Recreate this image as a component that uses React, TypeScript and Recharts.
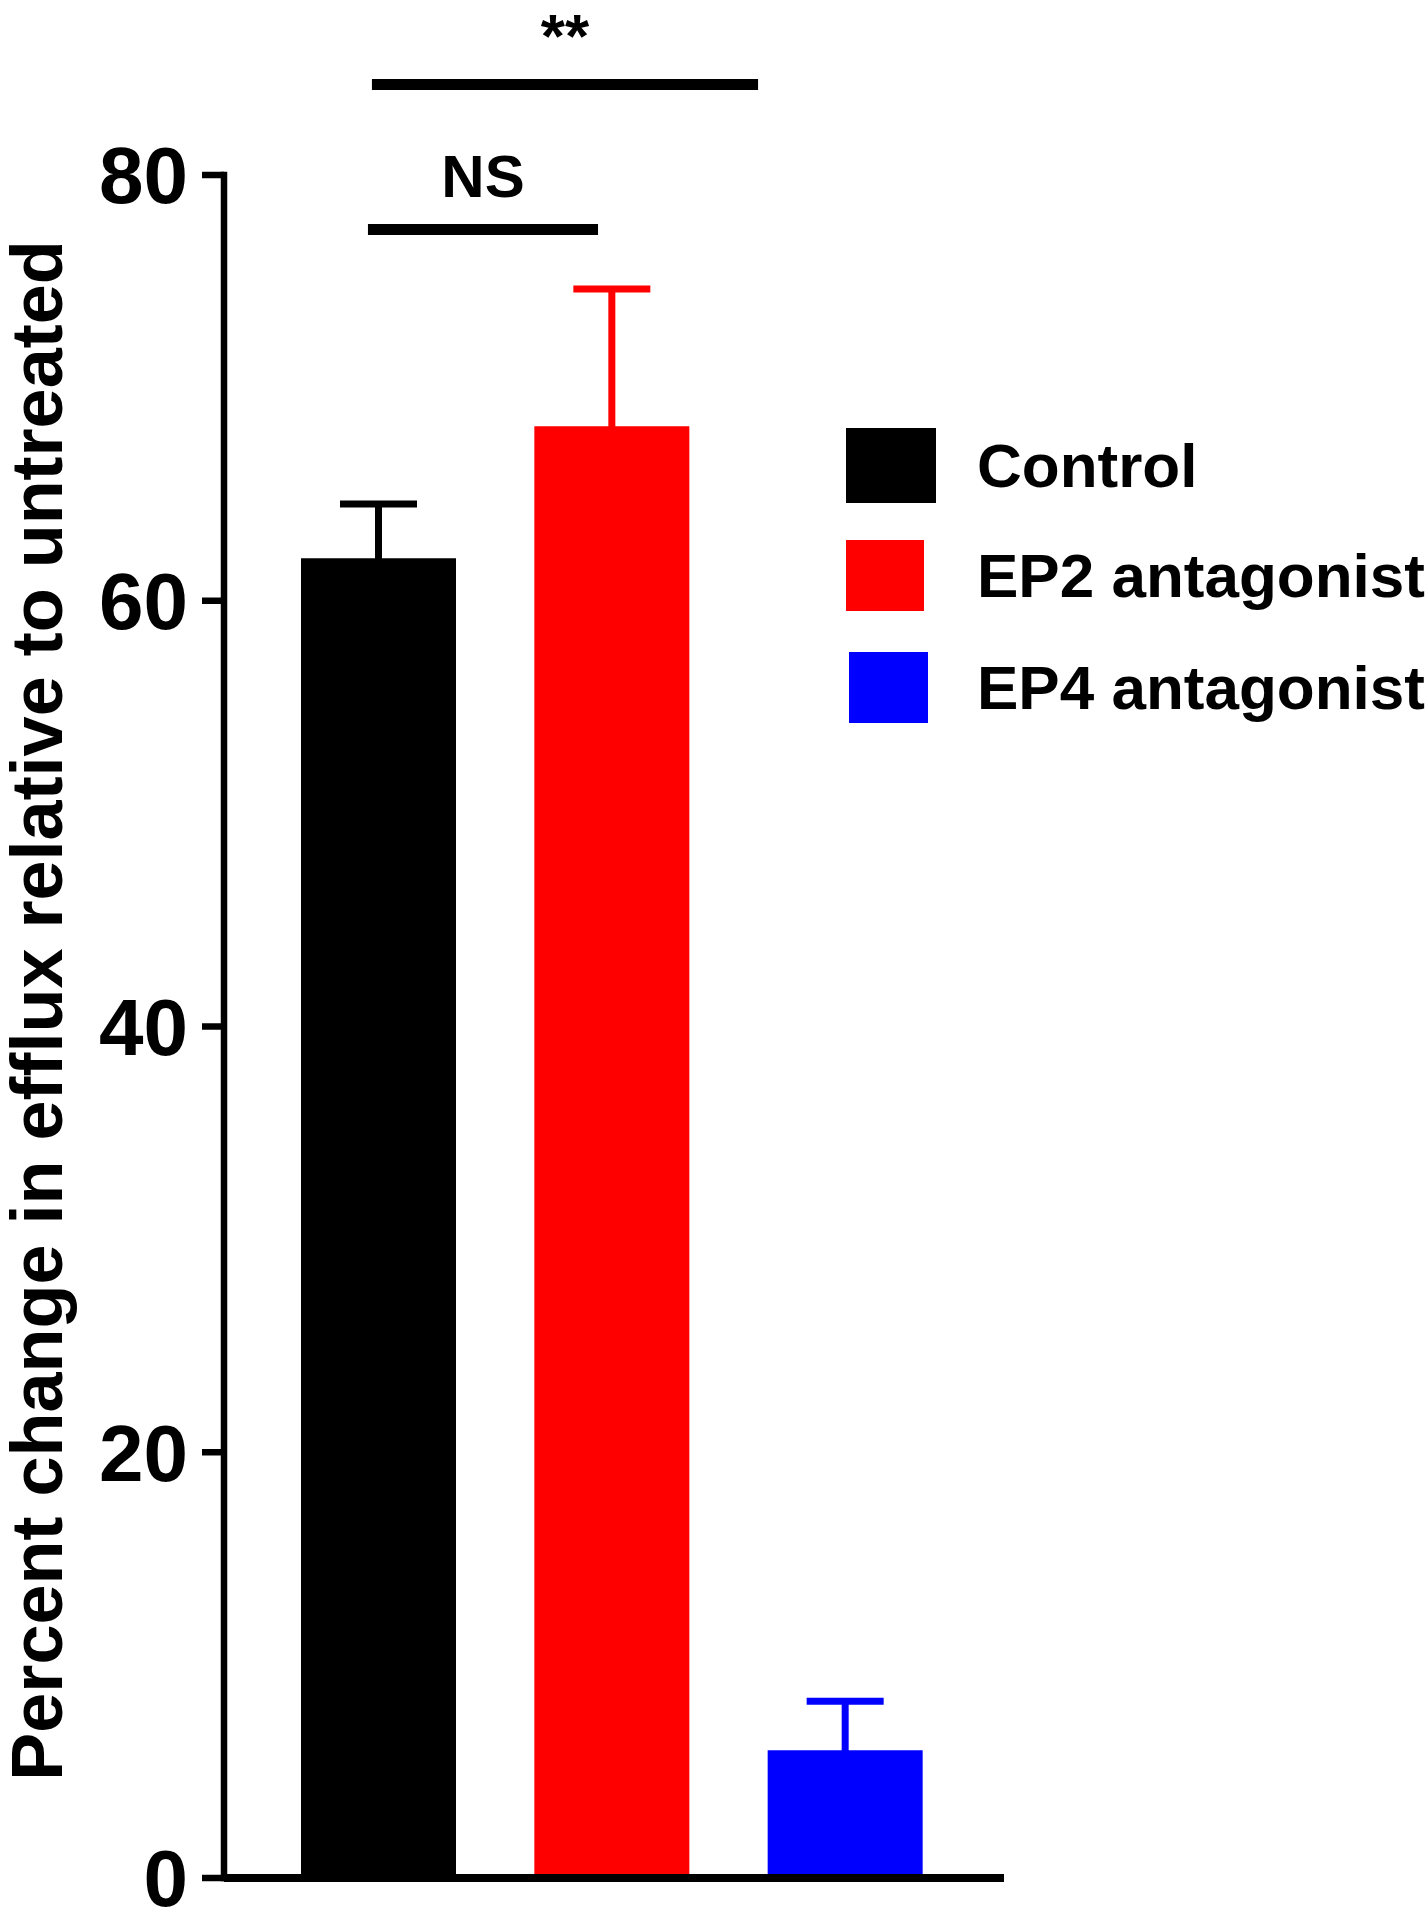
import { BarChart, Bar, Cell, XAxis, YAxis, ErrorBar, ReferenceLine, Legend } from "recharts"

const groups = ["Control", "EP2 antagonist", "EP4 antagonist"]
const means = [62.0, 68.2, 6.0]
const sems = [2.55, 6.45, 2.3]
const colors = ["#000000", "#ff0000", "#0000ff"]
const yTicks = [0, 20, 40, 60, 80]
const yTitle = "Percent change in efflux relative to untreated"

// significance brackets, x given in group-index units (0 = Control centre)
const sigLabels = ["NS", "**"]
const sigFrom = [-0.046, -0.029]
const sigTo = [0.94, 1.626]
const sigY = [77.44, 84.25]

const FONT = "'Liberation Sans', Arial, Helvetica, sans-serif"

// legend swatch sizes
const swatch = [
  { w: 90, h: 75, dx: 0 },
  { w: 78, h: 71, dx: 0 },
  { w: 79, h: 71, dx: 3 },
]

const rows = groups.map((g, i) => ({ group: g, idx: i, mean: means[i], ["err" + i]: sems[i] }))

function AxisTitle(props: any) {
  const vb = props.viewBox || { x: 0, y: 175, width: 224, height: 1703 }
  const cx = vb.x + 62
  const cy = vb.y + vb.height / 2 - 16
  return (
    <text
      x={cx}
      y={cy}
      transform={`rotate(-90 ${cx} ${cy})`}
      textAnchor="middle"
      fill="#000"
      fontSize={72}
      fontWeight="bold"
      fontFamily={FONT}
    >
      {yTitle}
    </text>
  )
}

function LegendBox() {
  return (
    <div style={{ fontFamily: FONT, fontWeight: "bold", fontSize: 62, color: "#000" }}>
      {groups.map((g, i) => (
        <div key={g} style={{ position: "relative", height: 112 }}>
          <div
            style={{
              position: "absolute",
              left: swatch[i].dx,
              top: 0,
              width: swatch[i].w,
              height: swatch[i].h,
              background: colors[i],
            }}
          />
          <div
            style={{
              position: "absolute",
              left: 131,
              top: swatch[i].h / 2 - 31,
              lineHeight: "62px",
              whiteSpace: "nowrap",
            }}
          >
            {g}
          </div>
        </div>
      ))}
    </div>
  )
}

export default function App() {
  return (
    <div style={{ position: "absolute", left: 0, top: 0, background: "#fff" }}>
      <BarChart width={1428} height={1920} data={rows} margin={{ top: 175, right: 424, bottom: 40, left: 0 }}>
        <XAxis
          dataKey="group"
          height={2}
          tick={false}
          tickLine={false}
          axisLine={{ stroke: "#000", strokeWidth: 8 }}
          padding={{ left: 38, right: 42 }}
        />
        <XAxis
          xAxisId="ann"
          dataKey="idx"
          type="number"
          domain={[-0.663, 2.68]}
          allowDataOverflow
          hide
        />
        <YAxis
          width={224}
          domain={[0, 80]}
          ticks={yTicks}
          interval={0}
          tickSize={22}
          tickMargin={14}
          axisLine={{ stroke: "#000", strokeWidth: 6.5, strokeLinecap: "square" }}
          tickLine={{ stroke: "#000", strokeWidth: 6.5 }}
          tick={{ fill: "#000", fontSize: 80, fontWeight: "bold", fontFamily: FONT }}
          label={<AxisTitle />}
        />
        <Bar dataKey="mean" barSize={155} isAnimationActive={false}>
          {rows.map((r, i) => (
            <Cell key={r.group} fill={colors[i]} />
          ))}
          {colors.map((c, i) => (
            <ErrorBar
              key={c}
              dataKey={"err" + i}
              direction="y"
              width={38.5}
              strokeWidth={7}
              stroke={c}
              isAnimationActive={false}
            />
          ))}
        </Bar>
        {sigLabels.map((s, i) => (
          <ReferenceLine
            key={s}
            xAxisId="ann"
            ifOverflow="visible"
            segment={[
              { x: sigFrom[i], y: sigY[i] },
              { x: sigTo[i], y: sigY[i] },
            ]}
            stroke="#000"
            strokeWidth={11}
            label={{
              value: s,
              position: "top",
              offset: i === 0 ? 32 : 28,
              fill: "#000",
              fontSize: i === 0 ? 60 : 62,
              fontWeight: "bold",
              fontFamily: FONT,
            }}
          />
        ))}
        <Legend
          layout="vertical"
          align="center"
          verticalAlign="middle"
          content={<LegendBox />}
          wrapperStyle={{ left: 846, top: 428, width: 580 }}
        />
      </BarChart>
    </div>
  )
}
